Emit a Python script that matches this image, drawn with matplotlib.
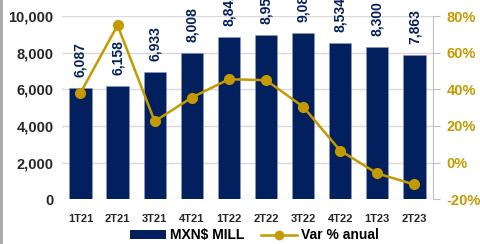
import matplotlib.pyplot as plt
from matplotlib.lines import Line2D
from matplotlib.patches import Patch

plt.rcParams["font.family"] = ["Liberation Sans", "DejaVu Sans"]

# datos
trimestres = ["1T21", "2T21", "3T21", "4T21", "1T22", "2T22", "3T22", "4T22", "1T23", "2T23"]
mxn_mill = [6087, 6158, 6933, 8008, 8842, 8950, 9087, 8534, 8300, 7863]
var_anual = [38, 75, 22.5, 35.5, 45.5, 45, 30.5, 6.5, -6, -12]

NAVY = "#03205E"
GOLD = "#C49A00"

fig = plt.figure(figsize=(4.8, 2.44), dpi=100)
ax = fig.add_axes([0.129, 0.184, 0.773, 0.750])
ax2 = ax.twinx()

x = list(range(len(trimestres)))
ax.bar(x, mxn_mill, width=0.6, color=NAVY, edgecolor="#8C9BC0", linewidth=0.4, zorder=2)
for xi, v in zip(x, mxn_mill):
    ax.text(xi, v + 600, f"{v:,}", rotation=90, ha="center", va="bottom",
            fontsize=10, fontweight="bold", color=NAVY, clip_on=False)

ax.set_ylim(0, 10000)
ax.set_yticks(range(0, 10001, 2000))
ax.set_yticklabels([f"{t:,}" for t in range(0, 10001, 2000)])
ax.set_xlim(-0.5, len(trimestres) - 0.5)
ax.set_xticks(x)
ax.set_xticklabels(trimestres)
ax.grid(axis="y", color="#D9D9D9", linewidth=1, zorder=0)
ax.set_axisbelow(True)
for s in ["left", "top", "right", "bottom"]:
    ax.spines[s].set_visible(False)
ax.tick_params(axis="y", length=0, pad=6, labelsize=10.5, labelcolor="#262626")
ax.tick_params(axis="x", length=0, pad=11, labelsize=8, labelcolor="#262626")
for lbl in ax.get_yticklabels() + ax.get_xticklabels():
    lbl.set_fontweight("bold")

ax2.plot(x, var_anual, color=GOLD, linewidth=1.8, marker="o", markersize=7, zorder=3)
ax2.set_ylim(-20, 80)
ax2.set_yticks(range(-20, 81, 20))
ax2.set_yticklabels([f"{t}%" for t in range(-20, 81, 20)])
for s in ["left", "top", "bottom"]:
    ax2.spines[s].set_visible(False)
ax2.spines["right"].set_color("#BFBFBF")
ax2.tick_params(axis="y", length=5, color="#BFBFBF", pad=5, labelsize=10.5, labelcolor=GOLD)
for lbl in ax2.get_yticklabels():
    lbl.set_fontweight("bold")

handles = [Patch(facecolor=NAVY, label="MXN$ MILL"),
           Line2D([0], [0], color=GOLD, linewidth=1.8, marker="o", markersize=6, label="Var % anual")]
fig.legend(handles=handles, loc="lower center", bbox_to_anchor=(0.53, -0.045), ncol=2,
           frameon=False, prop={"weight": "bold", "size": 10}, handlelength=2.6,
           columnspacing=1.2, handletextpad=0.3)

# borde izquierdo
fig.add_artist(Line2D([0.002, 0.002], [0, 1], color="#A6A6A6", linewidth=2, transform=fig.transFigure))

plt.savefig("out.png", dpi=100)
